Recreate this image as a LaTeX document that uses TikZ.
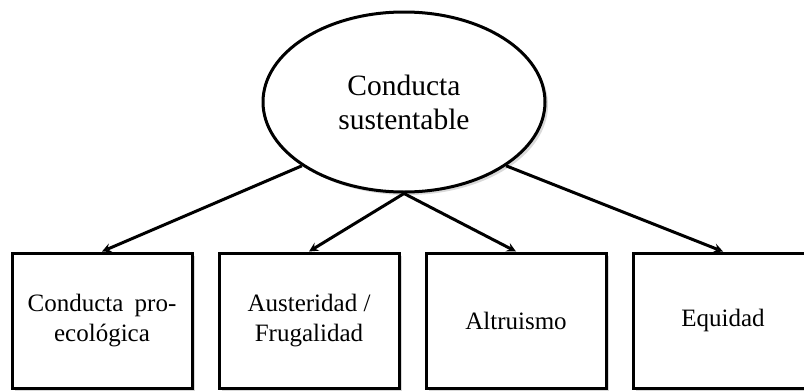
\documentclass[tikz,border=0pt]{standalone}
\usepackage{fontspec}
\setmainfont{Liberation Serif}
\usetikzlibrary{shapes.geometric, arrows, positioning, shadows}

\begin{document}
\begin{tikzpicture}[
  x=1pt, y=-1pt,
  node distance=24pt,
  shade/.style={drop shadow={shadow xshift=3pt, shadow yshift=-3pt, fill=black!25, opacity=0.6}},
  core/.style={ellipse, draw, line width=3pt, fill=white, shade, minimum width=282pt, minimum height=180pt, align=center, font=\fontsize{29.5}{34}\selectfont},
  dim/.style={rectangle, draw, line width=3pt, fill=white, shade, text centered, align=center, minimum height=135pt, minimum width=180pt, font=\fontsize{25}{30}\selectfont},
  arrow/.style={->, line width=3pt, >=stealth}
]
\path[use as bounding box, clip] (0,0) rectangle (804,391);

\node[core] (sust) at (404,102) {Conducta\\sustentable};

% dimensions
\node[dim] (eco) at (102,320.5) {Conducta\hspace{0.45em}pro-\\ecológica};
\node[dim, right=of eco] (aust) {Austeridad /\\Frugalidad};
\node[dim, right=of aust] (altr) {Altruismo};
\node[dim, right=of altr] (equi) {Equidad};

\draw[arrow] (sust.212) -- (eco.north);
\draw[arrow] (sust.south) -- (aust.north);
\draw[arrow] (sust.south) -- (altr.north);
\draw[arrow] (sust.328) -- (equi.north);
\end{tikzpicture}
\end{document}
